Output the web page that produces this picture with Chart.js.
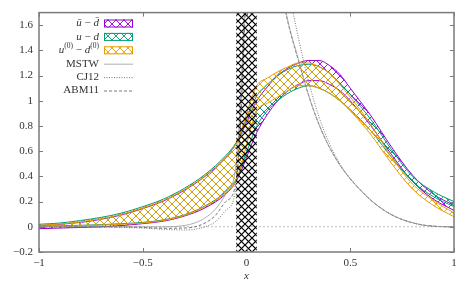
<!DOCTYPE html>
<html><head><meta charset="utf-8">
<script src="https://cdn.jsdelivr.net/npm/chart.js@4/dist/chart.umd.min.js"></script>
<style>html,body{margin:0;padding:0;background:#fff}canvas{display:block}</style>
</head><body>
<canvas id="c" width="473" height="284"></canvas>
<script>
// ---------- data ----------
const xBand = [-1, -0.9, -0.8, -0.7, -0.6, -0.5, -0.4, -0.3, -0.2, -0.1, -0.05, 0.05, 0.1, 0.15, 0.2, 0.25, 0.3, 0.35, 0.4, 0.45, 0.5, 0.6, 0.7, 0.8, 0.9, 1.0];
const ubarLo = [-0.015,-0.01,-0.005,0.0,0.01,0.025,0.045,0.085,0.15,0.26,0.36, 0.75,0.89,1.0,1.08,1.13,1.16,1.16,1.13,1.08,1.0,0.80,0.57,0.36,0.22,0.13];
const ubarHi = [0.01,0.02,0.035,0.06,0.095,0.145,0.205,0.29,0.40,0.55,0.66, 1.0,1.11,1.2,1.26,1.30,1.32,1.32,1.28,1.21,1.10,0.88,0.63,0.41,0.26,0.17];
const udLo   = [0.005,0.008,0.012,0.017,0.025,0.035,0.055,0.095,0.165,0.28,0.38, 0.80,0.92,1.0,1.06,1.10,1.12,1.10,1.06,1.0,0.93,0.76,0.55,0.36,0.24,0.16];
const udHi   = [0.02,0.03,0.05,0.075,0.11,0.16,0.22,0.305,0.415,0.565,0.67, 1.04,1.13,1.2,1.25,1.28,1.29,1.27,1.22,1.14,1.05,0.85,0.61,0.40,0.28,0.20];
const u0Lo   = [0.0,0.003,0.008,0.013,0.02,0.03,0.05,0.09,0.16,0.27,0.37, 0.92,0.98,1.03,1.08,1.12,1.12,1.10,1.06,1.0,0.92,0.73,0.50,0.30,0.17,0.08];
const u0Hi   = [0.012,0.022,0.04,0.065,0.10,0.15,0.21,0.295,0.405,0.555,0.66, 1.12,1.18,1.23,1.27,1.30,1.30,1.27,1.22,1.13,1.03,0.81,0.55,0.34,0.21,0.11];

const xPdf  = [-1, -0.8, -0.6, -0.5, -0.4, -0.3, -0.25, -0.2, -0.15, -0.1, -0.05, 0.05, 0.1, 0.15, 0.2, 0.25, 0.3, 0.35, 0.4, 0.45, 0.5, 0.55, 0.6, 0.65, 0.7, 0.75, 0.8, 0.85, 0.9, 0.95, 1.0];
const mstw  = [0,0,0,0,0,0.01,0.03,0.07,0.14,0.26,0.5, 3.4,2.55,2.05,1.63,1.33,1.04,0.81,0.63,0.49,0.38,0.29,0.21,0.145,0.095,0.058,0.032,0.014,0.005,0.001,0];
const cj12  = [0,0,-0.005,-0.01,-0.02,-0.025,-0.02,0.0,0.04,0.13,0.32, 3.6,2.9,2.35,1.9,1.5,1.15,0.87,0.66,0.5,0.385,0.29,0.21,0.147,0.095,0.058,0.032,0.014,0.005,0.001,0];
const abm11 = [0,0,0,-0.005,-0.012,-0.01,0.0,0.03,0.09,0.2,0.36, 3.3,2.5,2.02,1.62,1.32,1.04,0.81,0.63,0.49,0.38,0.29,0.21,0.145,0.095,0.058,0.032,0.014,0.005,0.001,0];

const bandX = [-0.05, 0.05];      // hatched excluded region
const xTicks = [-1, -0.5, 0, 0.5, 1];
const yTicks = [-0.2, 0, 0.2, 0.4, 0.6, 0.8, 1, 1.2, 1.4, 1.6];
const seriesNames = ['ū − d̄', 'u − d', 'u⁽⁰⁾ − d⁽⁰⁾', 'MSTW', 'CJ12', 'ABM11'];

// ---------- styles ----------
const PURPLE = '#9400d3', GREEN = '#009e73', ORANGE = '#e69f00';
const FRAME = '#7a7a7a', TXT = '#333333';
const FONT = '"Liberation Serif", "DejaVu Serif", serif';

function hatch(color, s, lw) {
  const c = document.createElement('canvas'); c.width = s; c.height = s;
  const g = c.getContext('2d');
  g.strokeStyle = color; g.lineWidth = lw;
  g.beginPath();
  g.moveTo(-1, -1); g.lineTo(s + 1, s + 1);
  g.moveTo(s + 1, -1); g.lineTo(-1, s + 1);
  g.stroke();
  return g.createPattern(c, 'repeat');
}
const pPurple = hatch(PURPLE, 8, 0.9);
const pGreen = hatch(GREEN, 8, 0.9);
const pOrange = hatch(ORANGE, 8, 0.9);
const pBlack = hatch('#000', 7, 1.2);

const pts = (xs, ys) => xs.map((x, i) => ({x, y: ys[i]}));
const bandLine = (data, color, pattern, fillTarget, order) => ({
  data, borderColor: color, borderWidth: 1, backgroundColor: pattern,
  fill: fillTarget === null ? false : {target: fillTarget},
  pointRadius: 0, tension: 0.4, cubicInterpolationMode: 'monotone', order
});

const datasets = [
  {data: bandX.map(x => ({x, y: 1.7})), borderWidth: 0, backgroundColor: pBlack, fill: 'start', pointRadius: 0, order: 0},
  bandLine(pts(xBand, ubarLo), PURPLE, pPurple, null, 4),
  bandLine(pts(xBand, ubarHi), PURPLE, pPurple, 1, 4),
  bandLine(pts(xBand, udLo), GREEN, pGreen, null, 3),
  bandLine(pts(xBand, udHi), GREEN, pGreen, 3, 3),
  bandLine(pts(xBand, u0Lo), ORANGE, pOrange, null, 2),
  bandLine(pts(xBand, u0Hi), ORANGE, pOrange, 5, 2),
  {data: pts(xPdf, mstw), borderColor: '#9a9a9a', borderWidth: 0.8, fill: false, pointRadius: 0, tension: 0.4, cubicInterpolationMode: 'monotone', order: 1},
  {data: pts(xPdf, cj12), borderColor: '#555', borderWidth: 0.8, borderDash: [1, 1.5], fill: false, pointRadius: 0, tension: 0.4, cubicInterpolationMode: 'monotone', order: 1},
  {data: pts(xPdf, abm11), borderColor: '#555', borderWidth: 0.8, borderDash: [3, 2], fill: false, pointRadius: 0, tension: 0.4, cubicInterpolationMode: 'monotone', order: 1},
  {data: [{x: -1, y: 0}, {x: 1, y: 0}], borderColor: '#b0b0b0', borderWidth: 0.8, borderDash: [2, 2], fill: false, pointRadius: 0, order: 5}
];

const fmt = v => { const r = Math.round(v * 10) / 10; return (r < 0 ? '\u2212' : '') + String(Math.abs(r)); };

const legendRows = [
  {segs: [['ū', 'i'], [' − ', 'n'], ['d\u0304', 'i']], type: 'band', color: PURPLE, pat: pPurple},
  {segs: [['u', 'i'], [' − ', 'n'], ['d', 'i']], type: 'band', color: GREEN, pat: pGreen},
  {segs: [['u', 'i'], ['(0)', 's'], [' − ', 'n'], ['d', 'i'], ['(0)', 's']], type: 'band', color: ORANGE, pat: pOrange},
  {segs: [[seriesNames[3], 'n']], type: 'line', color: '#9a9a9a', dash: []},
  {segs: [[seriesNames[4], 'n']], type: 'line', color: '#555', dash: [1, 1.5]},
  {segs: [[seriesNames[5], 'n']], type: 'line', color: '#555', dash: [3, 2]}
];

const framePlugin = {
  id: 'frame',
  afterDatasetsDraw(chart) {
    const {ctx, chartArea: a, scales: {x, y}} = chart;
    ctx.save();
    ctx.strokeStyle = FRAME; ctx.lineWidth = 1;
    ctx.beginPath();
    xTicks.forEach(v => { const px = Math.round(x.getPixelForValue(v)) + 0.5;
      ctx.moveTo(px, a.bottom); ctx.lineTo(px, a.bottom - 4);
      ctx.moveTo(px, a.top); ctx.lineTo(px, a.top + 4); });
    yTicks.forEach(v => { const py = Math.round(y.getPixelForValue(v)) + 0.5;
      ctx.moveTo(a.left, py); ctx.lineTo(a.left + 4, py);
      ctx.moveTo(a.right, py); ctx.lineTo(a.right - 4, py); });
    ctx.stroke();
    ctx.lineWidth = 1.5;
    ctx.strokeRect(a.left, a.top, a.right - a.left, a.bottom - a.top);
    const tx = 99, bx = 104, bw = 29, y0 = 23.5, dy = 13.4;
    ctx.textBaseline = 'middle';
    legendRows.forEach((r, i) => {
      const cy = y0 + i * dy;
      const fontOf = k => k === 'i' ? 'italic 11px ' + FONT : (k === 's' ? '7.5px ' + FONT : '11px ' + FONT);
      let w = 0;
      r.segs.forEach(([t, k]) => { ctx.font = fontOf(k); w += ctx.measureText(t).width; });
      let cx = tx - w;
      ctx.fillStyle = TXT; ctx.textAlign = 'left';
      r.segs.forEach(([t, k]) => { ctx.font = fontOf(k); ctx.fillText(t, cx, k === 's' ? cy - 4 : cy); cx += ctx.measureText(t).width; });
      if (r.type === 'band') {
        ctx.fillStyle = r.pat; ctx.fillRect(bx, cy - 4, bw, 8);
        ctx.strokeStyle = r.color; ctx.lineWidth = 1; ctx.setLineDash([]);
        ctx.strokeRect(bx + 0.5, cy - 3.5, bw - 1, 7);
      } else {
        ctx.strokeStyle = r.color; ctx.lineWidth = 0.8; ctx.setLineDash(r.dash);
        ctx.beginPath(); ctx.moveTo(bx, cy + 0.5); ctx.lineTo(bx + bw, cy + 0.5); ctx.stroke();
        ctx.setLineDash([]);
      }
    });
    ctx.restore();
  }
};

new Chart(document.getElementById('c'), {
  type: 'line',
  data: {datasets},
  options: {
    responsive: false, animation: false, devicePixelRatio: 1,
    layout: {padding: {top: 12, right: 19, left: 0, bottom: 0}},
    plugins: {legend: {display: false}, tooltip: {enabled: false}},
    scales: {
      x: {
        type: 'linear', min: -1, max: 1,
        afterFit: s => { s.height = 32; },
        afterBuildTicks: s => { s.ticks = xTicks.map(v => ({value: v})); },
        grid: {display: false, drawTicks: false}, border: {display: false},
        ticks: {padding: 5, color: TXT, font: {family: FONT, size: 11}, callback: v => fmt(v), maxRotation: 0, autoSkip: false},
        title: {display: true, text: 'x', color: TXT, font: {family: FONT, size: 11, style: 'italic'}, padding: {top: 0, bottom: 1}}
      },
      y: {
        type: 'linear', min: -0.2, max: 1.7,
        afterFit: s => { s.width = 39; },
        afterBuildTicks: s => { s.ticks = yTicks.map(v => ({value: v})); },
        grid: {display: false, drawTicks: false}, border: {display: false},
        ticks: {padding: 6, color: TXT, font: {family: FONT, size: 11}, callback: v => fmt(v), autoSkip: false}
      }
    }
  },
  plugins: [framePlugin]
});
</script>
</body></html>
